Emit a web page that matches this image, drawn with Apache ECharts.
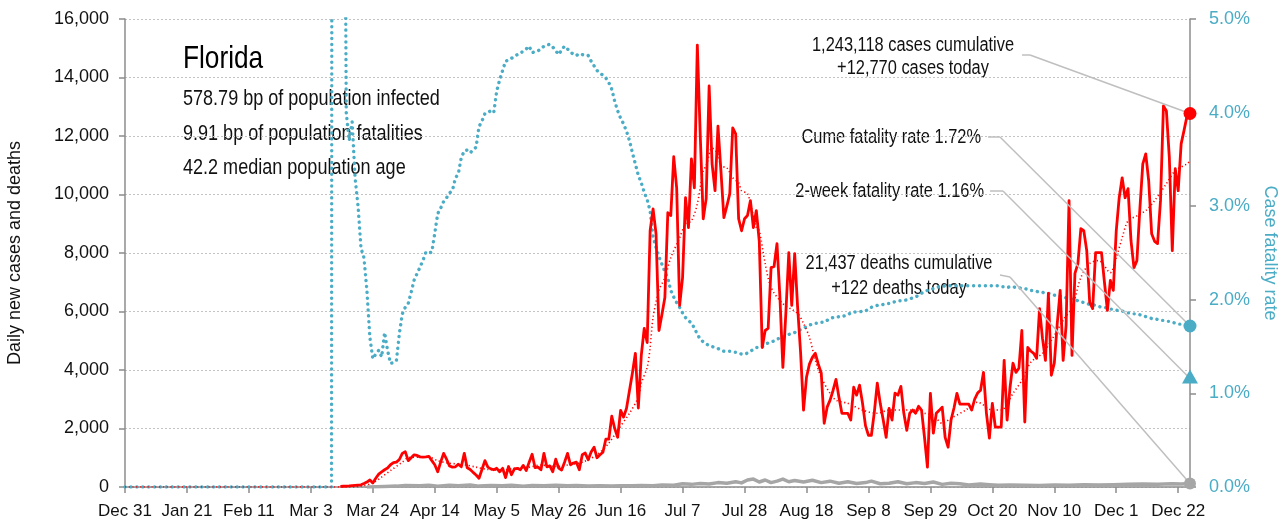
<!DOCTYPE html>
<html><head><meta charset="utf-8">
<script src="https://cdn.jsdelivr.net/npm/echarts@6/dist/echarts.min.js"></script>
<style>html,body{margin:0;padding:0;background:#fff}#c{width:1281px;height:529px}</style>
</head><body><div id="c"></div>
<script>
// Day index 0 = Dec 31, 2019
const START_UTC = Date.UTC(2019, 11, 31);
const MONTHS = ['Jan','Feb','Mar','Apr','May','Jun','Jul','Aug','Sep','Oct','Nov','Dec'];
const LAST_DAY = 361;

// Daily new cases, starting at day 73
const CASES_START = 73;
const cases = [
  22,25,30,35,45,55,65,
  75,120,170,240,140,300,440,520,590,650,
  760,830,850,940,1150,1210,900,1000,1100,1080,
  1030,1020,1030,1050,900,760,520,850,1150,950,
  720,680,690,780,690,1150,660,600,500,410,
  300,600,900,680,620,590,640,520,640,320,
  700,420,620,640,590,740,560,850,1120,660,
  680,590,1150,690,720,520,950,650,580,850,
  1150,760,820,850,590,1100,1160,930,1200,1360,
  1000,1100,1190,1640,1640,2420,2000,1700,2620,2390,
  2690,3300,3900,4570,2700,4500,5420,4940,8760,9510,
  8660,5350,5900,6480,9380,9280,11290,10230,6210,7160,
  9890,8870,11220,10230,15110,12000,9170,9860,13710,11050,
  10130,12340,10810,9210,9600,10030,12280,12070,9170,8760,
  9170,9280,9790,8870,9450,8400,4770,5350,5420,7500,
  7540,8320,6480,4090,5930,8010,6210,7980,6140,4600,
  2630,3750,4200,4430,4570,4200,3900,2180,2730,2970,
  3300,3680,3070,2520,2520,2520,2290,3410,3140,3480,
  2860,2100,1770,1770,2560,3550,2860,2300,1700,2690,
  2290,3210,3140,3440,2520,1940,2520,2630,2520,2760,
  2630,1700,680,3200,1840,2520,2620,2730,1700,1360,
  2290,2700,3200,2830,2830,2830,2830,2630,3000,3210,
  3310,3920,2520,1670,2860,2050,2050,2050,4330,2290,
  3410,4230,3920,4060,5350,2220,4770,4650,4570,4400,
  6100,5080,4330,6620,3820,4230,5590,6720,4330,5520,
  9790,4500,7300,7640,8830,8760,8080,6310,6100,8010,
  8010,8010,7000,6040,7060,6720,8760,9890,10570,9890,
  10200,8420,7500,7740,9500,11050,11390,10470,8660,8400,
  8320,9790,13030,12860,11250,8080,10880,10130,11730,12200,
  12690,12770
];

// 7-day average of cases (read at points along the dotted line)
const avgDays = [0,76,80,84,87,90,94,96,100,103,106,110,114,119,123,128,132,137,141,146,150,155,160,164,167,171,174,175,177,178,179,181,183,185,188,190,192,194,196,197,199,201,202,204,206,208,209,211,212,214,215,217,219,223,228,230,232,234,236,239,241,245,250,255,259,263,268,271,274,277,280,285,289,294,297,301,304,307,311,314,318,321,324,327,330,334,336,338,340,343,346,349,353,356,360,361];
const avgVals = [0,0,30,140,340,560,850,1000,1020,1020,900,810,780,680,600,580,640,680,750,700,750,850,1100,1500,1940,2520,3070,3550,4090,4770,5800,6720,7160,7840,8520,9000,9100,9680,10810,10980,11590,11390,10980,10910,10570,10400,10130,10030,9680,8870,8760,7640,6820,6270,5930,5590,5120,4330,3750,3200,2970,2860,2630,2520,2630,2630,2630,2520,2450,2180,2350,2630,2900,2630,2630,3200,3650,4260,4570,5010,5700,6140,7160,7640,7740,7330,7840,8520,9100,9270,9450,9790,10370,10810,11050,11150];

// Daily deaths (read at points along the grey line)
const deathDays = [82,85,88,92,95,100,103,106,110,113,117,120,124,128,131,135,138,142,146,150,153,157,161,165,168,172,175,179,182,186,189,192,195,198,201,204,207,209,211,213,215,217,219,221,223,225,227,230,233,236,239,242,245,248,251,253,256,259,262,265,268,271,274,277,280,283,286,290,293,296,300,305,310,315,320,325,330,335,340,345,350,355,358,361];
const deathVals = [2,10,20,30,50,40,60,30,60,40,70,30,50,40,60,30,50,40,60,40,50,30,40,30,45,40,50,40,70,60,110,90,120,100,150,130,180,140,240,270,170,240,150,200,270,180,220,170,230,150,200,130,180,120,150,200,110,130,180,110,150,120,170,90,130,110,70,100,80,60,70,60,50,70,60,80,70,80,90,100,90,110,100,122];

// Case fatality rate (%), from day 70; flat 0 before
const CFR_START = 70;
const cfr = [
  0,50,30,20,10,
  4.0,3.7,3.9,3.3,3.0,
  2.55,2.45,2.1,1.6,1.37,1.42,1.46,1.39,1.65,1.46,
  1.32,1.33,1.35,1.64,1.85,1.92,1.96,2.08,2.21,2.28,
  2.35,2.42,2.51,2.5,2.51,2.71,2.92,2.98,3.05,3.09,
  3.14,3.17,3.3,3.35,3.52,3.59,3.6,3.57,3.6,3.63,
  3.85,3.91,3.99,4.0,4.02,4.0,4.23,4.35,4.45,4.55,
  4.56,4.58,4.6,4.62,4.63,4.66,4.68,4.71,4.64,4.65,
  4.66,4.68,4.71,4.72,4.73,4.7,4.66,4.62,4.67,4.71,
  4.68,4.65,4.62,4.61,4.63,4.62,4.61,4.61,4.55,4.5,
  4.45,4.42,4.4,4.37,4.32,4.25,4.12,4.02,3.94,3.88,
  3.8,3.7,3.57,3.45,3.33,3.25,3.15,3.07,2.95,2.67,
  2.56,2.46,2.38,2.3,2.23,2.1,2.03,1.97,1.92,1.86,
  1.81,1.78,1.75,1.7,1.63,1.58,1.55,1.53,1.51,1.5,
  1.49,1.48,1.46,1.45,1.45,1.45,1.44,1.44,1.43,1.42,
  1.42,1.43,1.45,1.47,1.49,1.49,1.5,1.52,1.54,1.55,
  1.56,1.58,1.59,1.6,1.62,1.63,1.64,1.65,1.67,1.68,
  1.7,1.71,1.73,1.74,1.75,1.75,1.76,1.76,1.78,1.8,
  1.81,1.81,1.82,1.82,1.83,1.84,1.86,1.87,1.87,1.87,
  1.88,1.88,1.9,1.92,1.93,1.94,1.94,1.95,1.96,1.96,
  1.97,1.98,1.99,1.99,1.99,2.0,2.01,2.02,2.03,2.05,
  2.07,2.09,2.1,2.11,2.12,2.13,2.14,2.14,2.15,2.15,
  2.15,2.15,2.15,2.15,2.15,2.15,2.15,2.15,2.15,2.15,
  2.15,2.15,2.15,2.15,2.15,2.15,2.15,2.14,2.14,2.13,
  2.14,2.14,2.13,2.13,2.12,2.12,2.11,2.1,2.1,2.09,
  2.08,2.08,2.07,2.07,2.06,2.05,2.04,2.04,2.03,2.02,
  2.01,2.01,2.0,1.99,1.98,1.97,1.96,1.95,1.95,1.94,
  1.93,1.92,1.92,1.91,1.9,1.9,1.89,1.88,1.88,1.87,
  1.86,1.86,1.85,1.85,1.84,1.83,1.82,1.81,1.8,1.8,
  1.79,1.78,1.78,1.77,1.77,1.76,1.75,1.74,1.74,1.73,
  1.72,1.72
];

const leftTicks = { min: 0, max: 16000, interval: 2000 };
const rightTicks = { min: 0, max: 5, interval: 1 };

const lastCases = 12770, lastDeaths = 122, cumeCFR = 1.72, twoWeekCFR = 1.16;

const title = 'Florida';
const infoLines = ['578.79 bp of population infected', '9.91 bp of population fatalities', '42.2 median population age'];
const noteCases = ['1,243,118 cases cumulative', '+12,770 cases today'];
const noteCume = 'Cume fatality rate 1.72%';
const noteTwoWeek = '2-week fatality rate 1.16%';
const noteDeaths = ['21,437 deaths cumulative', '+122 deaths today'];

const FONT = "'Liberation Sans','Arimo',Arial,sans-serif";
const NARROW = 0.82;
const TEAL = '#4bacc6', RED = '#ff0000', GREY = '#a6a6a6', LEAD = '#bfbfbf', AXIS = '#8c8c8c', TXT = '#111';

function dayLabel(d) {
  const t = new Date(START_UTC + d * 86400000);
  return MONTHS[t.getUTCMonth()] + ' ' + t.getUTCDate();
}

const chart = echarts.init(document.getElementById('c'), null, { renderer: 'canvas' });

const leadStyle = { color: LEAD, width: 1.5, type: 'solid' };
function lead(p1, p2) { return [Object.assign({}, p1), Object.assign({}, p2)]; }

function txt(x, y, text, size, align, fill) {
  return {
    type: 'text', x: x, y: y, scaleX: NARROW, scaleY: 1, silent: true,
    style: { text: text, font: size + 'px ' + FONT, fill: fill || TXT, align: align, verticalAlign: 'middle' }
  };
}

const option = {
  animation: false,
  backgroundColor: '#fff',
  textStyle: { fontFamily: FONT },
  grid: { left: 125, right: 91, top: 19, bottom: 42, containLabel: false, outerBoundsMode: 'none' },
  xAxis: {
    type: 'value', min: 0, max: LAST_DAY, interval: 21,
    axisLine: { show: true, onZero: false, lineStyle: { color: AXIS, width: 1.5 } },
    axisTick: { show: true, length: 6, lineStyle: { color: AXIS, width: 1.5 } },
    axisLabel: { formatter: dayLabel, color: TXT, fontSize: 17, fontFamily: FONT, margin: 16, showMaxLabel: false },
    splitLine: { show: false }
  },
  yAxis: [{
    type: 'value', min: leftTicks.min, max: leftTicks.max, interval: leftTicks.interval,
    name: 'Daily new cases and deaths', nameLocation: 'middle', nameGap: 101, nameRotate: 90,
    nameTextStyle: { color: TXT, fontSize: 18, fontFamily: FONT },
    axisLine: { show: true, lineStyle: { color: AXIS, width: 1.5 } },
    axisTick: { show: true, length: 6, lineStyle: { color: AXIS, width: 1.5 } },
    axisLabel: { color: TXT, fontSize: 18, fontFamily: FONT, margin: 16,
      formatter: v => v.toLocaleString('en-US') },
    splitLine: { show: true, lineStyle: { color: '#c4c4c4', width: 1, type: [2, 2] } }
  }, {
    type: 'value', position: 'right', min: rightTicks.min, max: rightTicks.max, interval: rightTicks.interval,
    name: 'Case fatality rate', nameLocation: 'middle', nameGap: 60, nameRotate: -90,
    nameTextStyle: { color: TEAL, fontSize: 18, fontFamily: FONT },
    axisLine: { show: true, lineStyle: { color: AXIS, width: 1.5 } },
    axisTick: { show: true, length: 6, lineStyle: { color: AXIS, width: 1.5 } },
    axisLabel: { color: TEAL, fontSize: 18, fontFamily: FONT, margin: 19,
      formatter: v => v.toFixed(1) + '%' },
    splitLine: { show: false }
  }],
  series: [
    {
      name: 'CFR', type: 'line', yAxisIndex: 1, showSymbol: false, clip: true, z: 2,
      data: [[0, 0]].concat(cfr.map((v, i) => [CFR_START + i, v])),
      lineStyle: { color: TEAL, width: 3.4, type: [0.1, 5.8], cap: 'round' },
      markPoint: {
        silent: true, label: { show: false },
        data: [
          { coord: [LAST_DAY, cumeCFR], symbol: 'circle', symbolSize: 13, itemStyle: { color: TEAL } },
          { coord: [LAST_DAY, twoWeekCFR], symbol: 'triangle', symbolSize: [16, 14], symbolOffset: [0, -2], itemStyle: { color: TEAL } }
        ]
      },
      markLine: {
        silent: true, symbol: 'none', label: { show: false }, lineStyle: leadStyle, animation: false,
        data: [
          lead({ x: 988, y: 137 }, { x: 1000, y: 137 }),
          lead({ x: 1000, y: 137 }, { coord: [LAST_DAY, cumeCFR] }),
          lead({ x: 990, y: 191 }, { x: 1003, y: 191 }),
          lead({ x: 1003, y: 191 }, { coord: [LAST_DAY, twoWeekCFR] })
        ]
      }
    },
    {
      name: 'Cases', type: 'line', yAxisIndex: 0, showSymbol: false, z: 3,
      data: cases.map((v, i) => [CASES_START + i, v]),
      lineStyle: { color: RED, width: 2.8, join: 'round' },
      markPoint: {
        silent: true, label: { show: false },
        data: [{ coord: [LAST_DAY, lastCases], symbol: 'circle', symbolSize: 13, itemStyle: { color: RED } }]
      },
      markLine: {
        silent: true, symbol: 'none', label: { show: false }, lineStyle: leadStyle,
        data: [
          lead({ x: 1022, y: 55 }, { x: 1030, y: 55 }),
          lead({ x: 1030, y: 55 }, { coord: [LAST_DAY, lastCases] })
        ]
      }
    },
    {
      name: 'Avg', type: 'line', yAxisIndex: 0, showSymbol: false, z: 4, smooth: 0.3,
      data: avgDays.map((d, i) => [d, avgVals[i]]),
      lineStyle: { color: RED, width: 1.6, type: [1.2, 2.6] }
    },
    {
      name: 'Deaths', type: 'line', yAxisIndex: 0, showSymbol: false, z: 5,
      data: deathDays.map((d, i) => [d, deathVals[i]]),
      lineStyle: { color: GREY, width: 3.5, join: 'round' },
      markPoint: {
        silent: true, label: { show: false },
        data: [{ coord: [LAST_DAY, lastDeaths], symbol: 'circle', symbolSize: 12, itemStyle: { color: GREY } }]
      },
      markLine: {
        silent: true, symbol: 'none', label: { show: false }, lineStyle: leadStyle,
        data: [
          lead({ x: 1000, y: 275 }, { x: 1010, y: 277 }),
          lead({ x: 1010, y: 277 }, { coord: [LAST_DAY, lastDeaths] })
        ]
      }
    }
  ],
  graphic: [
    txt(183, 59, title, 32, 'left', '#000'),
    txt(183, 99, infoLines[0], 22, 'left'),
    txt(183, 134, infoLines[1], 22, 'left'),
    txt(183, 168, infoLines[2], 22, 'left'),
    txt(913, 45, noteCases[0], 20, 'center'),
    txt(913, 68, noteCases[1], 20, 'center'),
    txt(981, 137, noteCume, 20, 'right'),
    txt(984, 191, noteTwoWeek, 20, 'right'),
    txt(899, 263, noteDeaths[0], 20, 'center'),
    txt(899, 288, noteDeaths[1], 20, 'center')
  ]
};
chart.setOption(option);
</script>
</body></html>
